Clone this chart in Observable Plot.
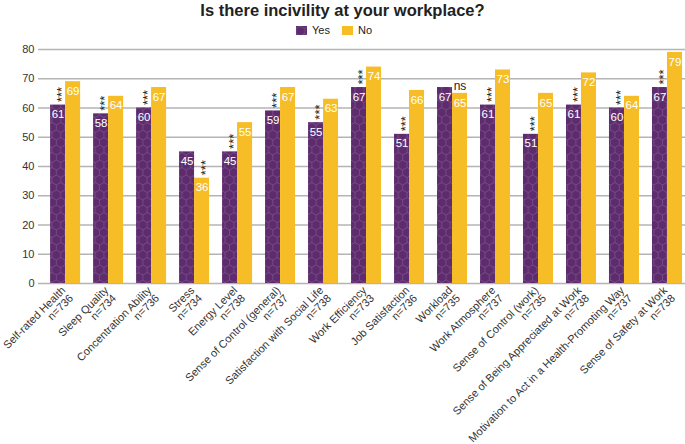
<!DOCTYPE html>
<html><head><meta charset="utf-8">
<script src="https://cdn.jsdelivr.net/npm/d3@7"></script>
<script src="https://cdn.jsdelivr.net/npm/@observablehq/plot@0.6"></script>
<style>
body{margin:0;background:#fff;font-family:"Liberation Sans",Arial,sans-serif;}
#title{width:685px;height:20px;line-height:20px;text-align:center;font-weight:bold;font-size:16.5px;color:#222;}
#legend{width:685px;height:20px;display:flex;align-items:center;font-size:11px;color:#222;box-sizing:border-box;padding-left:296px;}
#legend .item{display:flex;align-items:center;margin-right:12px;}
#legend svg{margin-right:5px;display:block;}
</style></head>
<body>
<div id="title">Is there incivility at your workplace?</div>
<div id="legend"></div>
<div id="chart"></div>
<script>
const categories = ["Self-rated Health","Sleep Quality","Concentration Ability","Stress","Energy Level","Sense of Control (general)","Satisfaction with Social Life","Work Efficiency","Job Satisfaction","Workload","Work Atmosphere","Sense of Control (work)","Sense of Being Appreciated at Work","Motivation to Act in a Health-Promoting Way","Sense of Safety at Work"];
const sampleN = [736,734,736,734,738,737,738,733,736,735,737,735,738,737,738];
const yesValues = [61,58,60,45,45,59,55,67,51,67,61,51,61,60,67];
const noValues = [69,64,67,36,55,67,63,74,66,65,73,65,72,64,79];
const significance = ["***","***","***","***","***","***","***","***","***","ns","***","***","***","***","***"];
const significanceOn = ["Yes","Yes","Yes","No","Yes","Yes","Yes","Yes","Yes","ns","Yes","Yes","Yes","Yes","Yes"];
const yTicks = [0,10,20,30,40,50,60,70,80];
const seriesNames = ["Yes","No"];

const PURPLE = "#5e2b6d", YELLOW = "#f6bd27";

const data = categories.map((c,i)=>({c, n:sampleN[i], yes:yesValues[i], no:noValues[i], sig:significance[i], on:significanceOn[i]}));

function addPattern(svgSel, id){
  const r = 5, w = Math.sqrt(3)*r, h = 3*r;
  const defs = svgSel.insert("defs", ":first-child");
  const p = defs.append("pattern").attr("id", id).attr("patternUnits","userSpaceOnUse").attr("width", w).attr("height", h);
  p.append("rect").attr("width", w).attr("height", h).attr("fill", PURPLE);
  p.append("path")
    .attr("d", `M${w/2},0L${w},${r/2}L${w},${1.5*r}L${w/2},${2*r}L0,${1.5*r}L0,${r/2}Z M${w/2},${2*r}L${w/2},${3*r}`)
    .attr("fill","none").attr("stroke","#7f5792").attr("stroke-width",0.7);
}

const plot = Plot.plot({
  width: 685, height: 404,
  marginLeft: 38, marginRight: 0, marginTop: 9, marginBottom: 161,
  style: {fontFamily: "Liberation Sans, Arial, sans-serif", fontSize: "11px", color: "#333", background: "transparent", overflow: "visible"},
  x: {domain: categories, paddingInner: 0.302, paddingOuter: 0.176, align: 0.8, round: false, axis: null},
  y: {domain: [0, 80], axis: null},
  marks: [
    Plot.gridY(yTicks, {stroke: "#b4b4b4", strokeOpacity: 1, strokeWidth: 1.5}),
    Plot.axisY(yTicks, {tickSize: 0, tickPadding: 4, fontSize: 11, fill: "#333"}),
    Plot.barY(data, {x: "c", y: "yes", fill: "url(#hexpat)", insetRight: 15}),
    Plot.barY(data, {x: "c", y: "no", fill: YELLOW, insetLeft: 15}),
    Plot.text(data, {x: "c", y: "yes", text: d => String(d.yes), dx: -7.5, dy: 5, lineAnchor: "top", fill: "white", fontSize: 11.5}),
    Plot.text(data, {x: "c", y: "no", text: d => String(d.no), dx: 7.5, dy: 5, lineAnchor: "top", fill: "white", fontSize: 11.5}),
    Plot.text(data.filter(d => d.on === "Yes"), {x: "c", y: "yes", text: "sig", rotate: -90, textAnchor: "start", lineAnchor: "middle", dx: -4, dy: -3, fontSize: 13, fill: "#222"}),
    Plot.text(data.filter(d => d.on === "No"), {x: "c", y: "no", text: "sig", rotate: -90, textAnchor: "start", lineAnchor: "middle", dx: 11, dy: -3, fontSize: 13, fill: "#222"}),
    Plot.text(data.filter(d => d.on === "ns"), {x: "c", y: "no", text: "sig", lineAnchor: "bottom", dx: 7.5, dy: -3, fontSize: 12, fill: "#222"}),
    Plot.text(data, {x: "c", frameAnchor: "bottom", text: d => d.c + "\nn=" + d.n, rotate: -45, textAnchor: "end", lineAnchor: "top", dx: -5, dy: 2, fontSize: 11, fill: "#333"})
  ]
});
addPattern(d3.select(plot), "hexpat");
document.getElementById("chart").appendChild(plot);

const legend = d3.select("#legend");
seriesNames.forEach((name, i) => {
  const item = legend.append("div").attr("class", "item");
  const s = item.append("svg").attr("width", 11).attr("height", 9);
  if (i === 0) { addPattern(s, "hexpat-legend"); s.append("rect").attr("width", 11).attr("height", 9).attr("fill", "url(#hexpat-legend)"); }
  else s.append("rect").attr("width", 11).attr("height", 9).attr("fill", YELLOW);
  item.append("span").text(name);
});
</script>
</body></html>
